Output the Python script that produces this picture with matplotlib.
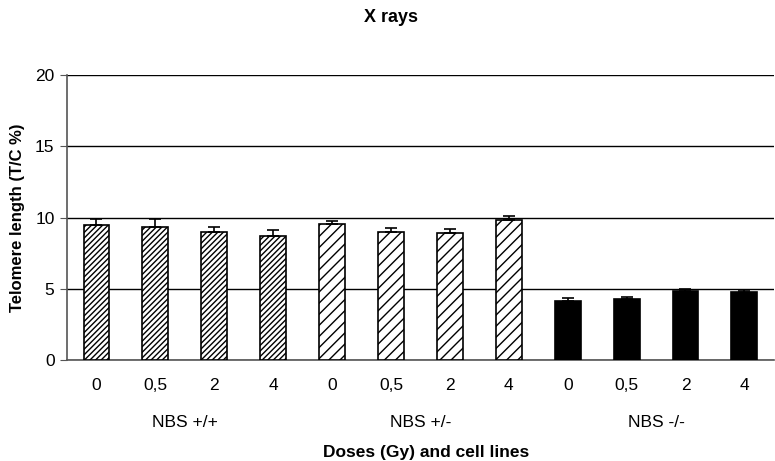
import matplotlib
matplotlib.use("Agg")
import matplotlib.pyplot as plt
import numpy as np

plt.rcParams["font.family"] = ["Liberation Sans", "DejaVu Sans"]
plt.rcParams["hatch.linewidth"] = 1.0

# Datos
dosis = ["0", "0,5", "2", "4"]
lineas = ["NBS +/+", "NBS +/-", "NBS -/-"]
nbs_pp = [9.47, 9.37, 9.0, 8.72]
nbs_pm = [9.57, 9.0, 8.91, 9.85]
nbs_mm = [4.16, 4.28, 4.84, 4.75]
err_pp = [0.4, 0.5, 0.37, 0.38]
err_pm = [0.19, 0.28, 0.28, 0.28]
err_mm = [0.17, 0.16, 0.16, 0.16]

valores = [nbs_pp, nbs_pm, nbs_mm]
errores = [err_pp, err_pm, err_mm]
estilos = [
    dict(color="white", hatch="//////"),
    dict(color="white", hatch="///"),
    dict(color="black", hatch=None),
]

fig = plt.figure(figsize=(7.75, 4.61), dpi=100)
ax = fig.add_axes([0.0865, 0.219, 0.912, 0.618])

posiciones = []
etiquetas = []
for g, (vals, errs, estilo) in enumerate(zip(valores, errores, estilos)):
    x = np.arange(len(vals)) + g * len(dosis)
    ax.bar(x, vals, width=0.44, color=estilo["color"], hatch=estilo["hatch"],
           edgecolor="black", linewidth=1.2, zorder=3)
    ax.errorbar(x, vals, yerr=[np.zeros(len(errs)), errs], fmt="none",
                ecolor="black", elinewidth=1.2, capsize=4.5, capthick=1.2, zorder=4)
    posiciones.extend(x)
    etiquetas.extend(dosis)
    ax.text(x.mean(), -0.2175, lineas[g], transform=ax.get_xaxis_transform(),
            ha="center", va="center", fontsize=12.5)

ax.set_xlim(-0.5, 11.5)
ax.set_ylim(0, 20)
ax.set_yticks([0, 5, 10, 15, 20])
ax.set_xticks(posiciones)
ax.set_xticklabels(etiquetas, fontsize=12.5)
ax.tick_params(axis="x", length=0, pad=13)
ax.tick_params(axis="y", length=5, color="#555555", labelsize=12.5, pad=4)
ax.yaxis.grid(True, color="black", linewidth=1.0, zorder=0)
ax.set_axisbelow(True)

for lado in ["top", "right"]:
    ax.spines[lado].set_visible(False)
ax.spines["left"].set_color("#555555")
ax.spines["bottom"].set_color("#555555")
ax.spines["left"].set_linewidth(1.2)
ax.spines["bottom"].set_linewidth(1.2)

ax.set_ylabel("Telomere length (T/C %)", fontsize=12, fontweight="bold", labelpad=7)
fig.text(0.55, 0.0195, "Doses (Gy) and cell lines", ha="center", va="center",
         fontsize=12.5, fontweight="bold")
fig.text(0.505, 0.962, "X rays", ha="center", va="center", fontsize=13, fontweight="bold")

fig.savefig("out.png", dpi=100)
